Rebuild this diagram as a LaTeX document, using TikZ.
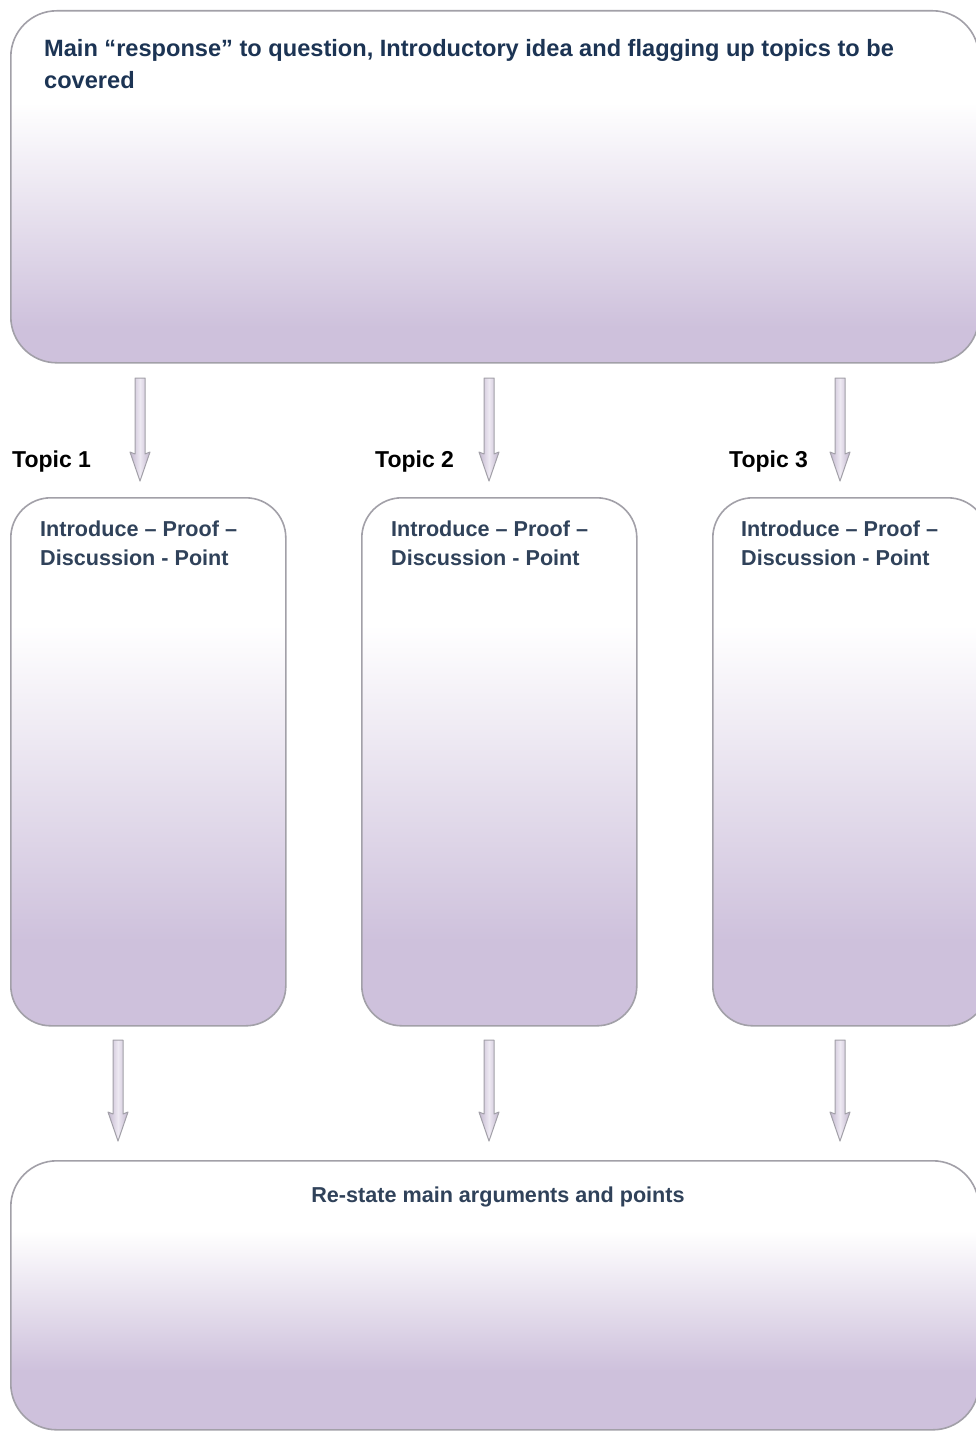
\documentclass[tikz,border=0pt]{standalone}
\usepackage{fontspec}
\setmainfont{Liberation Sans}
\usetikzlibrary{calc}
\definecolor{lav}{RGB}{206,193,220}
\definecolor{bordergray}{RGB}{162,160,168}
\definecolor{navy}{RGB}{28,52,84}
\definecolor{slate}{RGB}{48,66,90}
\pgfdeclareverticalshading{topshade}{100bp}{color(0bp)=(lav); color(30bp)=(lav); color(62bp)=(white); color(100bp)=(white)}
\pgfdeclareverticalshading{colshade}{100bp}{color(0bp)=(lav); color(33bp)=(lav); color(63bp)=(white); color(100bp)=(white)}
\pgfdeclareverticalshading{botshade}{100bp}{color(0bp)=(lav); color(36bp)=(lav); color(62bp)=(white); color(100bp)=(white)}
\tikzset{
  boxbase/.style={draw=bordergray, line width=1.6pt, inner sep=0pt, anchor=north west},
  bigbox/.style={boxbase, rounded corners=46pt},
  colbox/.style={boxbase, rounded corners=40pt, shading=colshade, minimum width=275pt, minimum height=528pt},
  fatarrow/.style={draw=bordergray, line width=1pt, left color=lav!85!gray, right color=lav!85!gray, middle color=lav!35, line join=round},
  toptext/.style={font=\bfseries\fontsize{23.6}{32}\selectfont, text=navy, inner sep=0pt, align=left, anchor=north west},
  coltext/.style={font=\bfseries\fontsize{21.6}{29}\selectfont, text=slate, inner sep=0pt, align=left, anchor=north west},
  topiclabel/.style={font=\bfseries\fontsize{23}{28}\selectfont, text=black, inner sep=0pt, anchor=base west},
}
\newcommand\drawfatarrow[2]{%
  \draw[fatarrow] let \p1=(#1), \p2=(#2) in
   (\x1-5pt,\y1) -- (\x1+5pt,\y1) -- (\x2+5pt,\y2+27pt) -- (\x2+10pt,\y2+29pt)
   -- (\x2,\y2) -- (\x2-10pt,\y2+29pt) -- (\x2-5pt,\y2+27pt) -- cycle;}
\begin{document}
\begin{tikzpicture}[x=1pt,y=-1pt]
\useasboundingbox (0,0) rectangle (975,1431);
\fill[white] (0,0) rectangle (975,1431);
% boxes
\node[bigbox, shading=topshade, minimum width=968pt, minimum height=352pt] (top) at (10,10) {};
\node[colbox] (c1) at (10,497) {};
\node[colbox] (c2) at (361,497) {};
\node[colbox] (c3) at (712,497) {};
\node[bigbox, shading=botshade, minimum width=968pt, minimum height=269pt] (bot) at (10,1160) {};
% texts
\node[toptext] (tt) at (44,39) {Main “response” to question, Introductory idea and flagging up topics to be\\covered};
\node[topiclabel] (l1) at (12,467) {Topic 1};
\node[topiclabel] (l2) at (375,467) {Topic 2};
\node[topiclabel] (l3) at (729,467) {Topic 3};
\node[coltext] (t1) at (40,521) {Introduce – Proof –\\Discussion - Point};
\node[coltext] (t2) at (391,521) {Introduce – Proof –\\Discussion - Point};
\node[coltext] (t3) at (741,521) {Introduce – Proof –\\Discussion - Point};
\node[font=\bfseries\fontsize{21.6}{26}\selectfont, text=slate, inner sep=0pt, anchor=base] (bt) at (498,1202) {Re-state main arguments and points};
% arrows
\coordinate (a1s) at (140,378); \coordinate (a1e) at (140,481);
\coordinate (a2s) at (489,378); \coordinate (a2e) at (489,481);
\coordinate (a3s) at (840,378); \coordinate (a3e) at (840,481);
\coordinate (b1s) at (118,1040); \coordinate (b1e) at (118,1141);
\coordinate (b2s) at (489,1040); \coordinate (b2e) at (489,1141);
\coordinate (b3s) at (840,1040); \coordinate (b3e) at (840,1141);
\drawfatarrow{a1s}{a1e}
\drawfatarrow{a2s}{a2e}
\drawfatarrow{a3s}{a3e}
\drawfatarrow{b1s}{b1e}
\drawfatarrow{b2s}{b2e}
\drawfatarrow{b3s}{b3e}
\end{tikzpicture}
\end{document}
